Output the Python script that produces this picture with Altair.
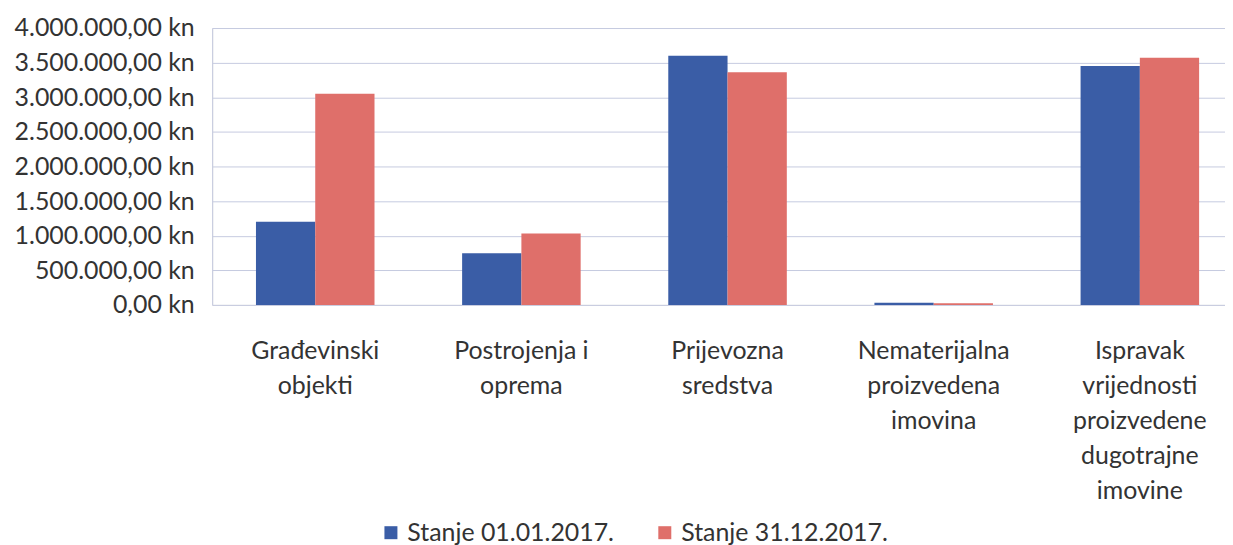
import altair as alt
import pandas as pd

categories = [
    "Građevinski|objekti",
    "Postrojenja i|oprema",
    "Prijevozna|sredstva",
    "Nematerijalna|proizvedena|imovina",
    "Ispravak|vrijednosti|proizvedene|dugotrajne|imovine",
]
series = ["Stanje 01.01.2017.", "Stanje 31.12.2017."]
values_start = [1200000, 745000, 3600000, 32000, 3450000]
values_end = [3050000, 1030000, 3360000, 22000, 3570000]
y_ticks = [0, 500000, 1000000, 1500000, 2000000, 2500000, 3000000, 3500000, 4000000]
colors = ["#3a5da6", "#df6f6a"]

rows = []
for c, a, b in zip(categories, values_start, values_end):
    rows.append({"cat": c, "series": series[0], "value": a})
    rows.append({"cat": c, "series": series[1], "value": b})
df = pd.DataFrame(rows)

font = "Lato"
fs = 25
ylabel = ("replace(replace(replace(format(datum.value, ',.2f'), regexp(',', 'g'), ' '), "
          "regexp('\\\\.', 'g'), ','), regexp(' ', 'g'), '.') + ' kn'")

chart = alt.Chart(df).mark_bar().encode(
    x=alt.X("cat:N", sort=categories,
            scale=alt.Scale(range=[0, 1035], paddingInner=0.425, paddingOuter=0.2125),
            axis=alt.Axis(title=None, domain=False, ticks=False, labelAngle=0,
                          labelExpr="split(datum.label, '|')", labelFont=font,
                          labelFontSize=fs, labelColor="#333333", labelPadding=34,
                          labelLineHeight=35, labelBaseline="top", labelLimit=0)),
    xOffset=alt.XOffset("series:N", sort=series, scale=alt.Scale(paddingInner=0, paddingOuter=0)),
    y=alt.Y("value:Q", scale=alt.Scale(domain=[0, 4000000], nice=False),
            axis=alt.Axis(title=None, values=y_ticks, domain=True, domainColor="#c6cbe0",
                          ticks=False, labelExpr=ylabel, labelFont=font, labelFontSize=fs,
                          labelColor="#333333", labelPadding=18, labelLimit=0,
                          grid=True, gridColor="#c6cbe0", gridWidth=1)),
    color=alt.Color("series:N", sort=series,
                    scale=alt.Scale(domain=series, range=colors),
                    legend=alt.Legend(title=None, orient="none", direction="horizontal",
                                      legendX=167, legendY=494, symbolType="square",
                                      symbolSize=170, symbolStrokeWidth=0,
                                      labelFont=font, labelFontSize=fs, labelLimit=0,
                                      labelColor="#333333", columnPadding=38,
                                      symbolOpacity=1)),
).properties(
    width=1017, height=278,
    autosize=alt.AutoSizeParams(type="none"),
    padding={"left": 205, "top": 19, "right": 0, "bottom": 240},
).configure_view(stroke=None
).configure(background="white")

chart.save("out.html", embed_options={"renderer": "svg", "actions": False})
